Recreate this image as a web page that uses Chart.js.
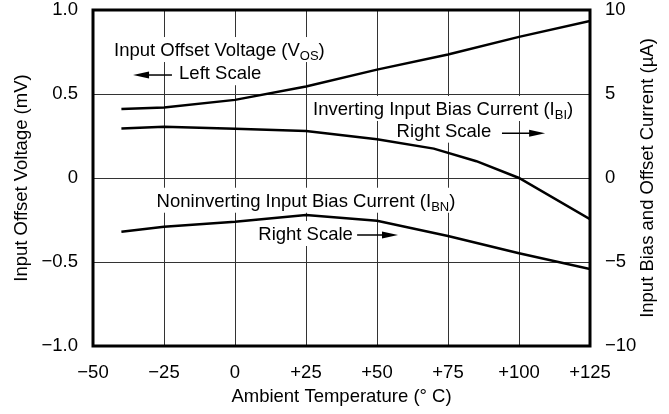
<!DOCTYPE html>
<html>
<head>
<meta charset="utf-8">
<script src="https://cdn.jsdelivr.net/npm/chart.js@4/dist/chart.umd.min.js"></script>
<style>
    html, body { margin: 0; padding: 0; background: #fff; }
    #chart { display: block; }
</style>
</head>
<body>
<canvas id="chart" width="669" height="414"></canvas>
<script>
// values
const vosTemps = [-40, -25, 0, 25, 50, 75, 100, 125];
const vosValues = [0.41, 0.42, 0.465, 0.545, 0.645, 0.735, 0.84, 0.935]; // mV, left scale

const ibiTemps = [-40, -25, 0, 25, 50, 70, 85, 100, 125];
const ibiValues = [2.95, 3.05, 2.93, 2.8, 2.3, 1.75, 1.0, 0, -2.45]; // uA, right scale

const ibnTemps = [-40, -25, 0, 25, 50, 75, 100, 125];
const ibnValues = [-3.2, -2.9, -2.6, -2.2, -2.55, -3.45, -4.48, -5.42]; // uA, right scale

const xTicks = [-50, -25, 0, 25, 50, 75, 100, 125];
const xTickLabels = ["\u221250", "\u221225", "0", "+25", "+50", "+75", "+100", "+125"];
const leftTicks = [-1, -0.5, 0, 0.5, 1];
const leftTickLabels = ["\u22121.0", "\u22120.5", "0", "0.5", "1.0"];
const rightTicks = [-10, -5, 0, 5, 10];
const rightTickLabels = ["\u221210", "\u22125", "0", "5", "10"];

const FONT = "'Liberation Sans', Arial, Helvetica, sans-serif";
const FONT_SIZE = 18.5;
const SUB_SIZE = 13;
Chart.defaults.font.family = FONT;
Chart.defaults.font.size = FONT_SIZE;
Chart.defaults.color = "#000";

function toPoints(xs, ys) {
    return xs.map((x, i) => ({ x: x, y: ys[i] }));
}

function labelFor(ticks, labels) {
    return (value) => {
        const i = ticks.indexOf(value);
        return i >= 0 ? labels[i] : "";
    };
}

// text notes on the plot, placed in data units (temperature, left scale mV)
const notes = [
    { t: -42.6, v: 0.726, parts: [["Input Offset Voltage (V", 0], ["OS", 1], [")", 0]] },
    { t: -19.7, v: 0.588, parts: [["Left Scale", 0]] },
    { t: 27.5, v: 0.375, parts: [["Inverting Input Bias Current (I", 0], ["BI", 1], [")", 0]] },
    { t: 56.9, v: 0.246, parts: [["Right Scale", 0]] },
    { t: -27.6, v: -0.171, parts: [["Noninverting Input Bias Current (I", 0], ["BN", 1], [")", 0]] },
    { t: 8.2, v: -0.369, parts: [["Right Scale", 0]] },
];
const arrows = [
    { from: -22.2, to: -35.9, v: 0.613 },
    { from: 94.0, to: 109.2, v: 0.266 },
    { from: 43.0, to: 57.4, v: -0.339 },
];

function setFont(ctx, sub) {
    ctx.font = (sub ? SUB_SIZE : FONT_SIZE) + "px " + FONT;
}

function richWidth(ctx, parts) {
    let w = 0;
    parts.forEach(([s, sub]) => {
        setFont(ctx, sub);
        w += ctx.measureText(s).width;
    });
    return w;
}

const notesPlugin = {
    id: "notes",
    beforeDatasetsDraw(chart) {
        const { ctx, scales } = chart;
        ctx.save();
        ctx.fillStyle = "#fff";
        notes.forEach((n) => {
            const x = scales.x.getPixelForValue(n.t);
            const y = scales.y.getPixelForValue(n.v);
            const w = richWidth(ctx, n.parts);
            ctx.fillRect(x - 3, y - 19, w + 6, 25);
        });
        ctx.restore();
    },
    afterDatasetsDraw(chart) {
        const { ctx, scales, chartArea } = chart;
        ctx.save();
        ctx.fillStyle = "#000";
        ctx.strokeStyle = "#000";
        ctx.textBaseline = "alphabetic";
        ctx.textAlign = "left";
        notes.forEach((n) => {
            let x = scales.x.getPixelForValue(n.t);
            const y = scales.y.getPixelForValue(n.v);
            n.parts.forEach(([s, sub]) => {
                setFont(ctx, sub);
                ctx.fillText(s, x, sub ? y + 4 : y);
                x += ctx.measureText(s).width;
            });
        });

        arrows.forEach((a) => {
            const x1 = scales.x.getPixelForValue(a.from);
            const x2 = scales.x.getPixelForValue(a.to);
            const y = scales.y.getPixelForValue(a.v);
            const dir = Math.sign(x2 - x1);
            ctx.lineWidth = 1.5;
            ctx.beginPath();
            ctx.moveTo(x1, y);
            ctx.lineTo(x2 - dir * 8, y);
            ctx.stroke();
            ctx.beginPath();
            ctx.moveTo(x2, y);
            ctx.lineTo(x2 - dir * 16, y - 3.5);
            ctx.lineTo(x2 - dir * 16, y + 3.5);
            ctx.closePath();
            ctx.fill();
        });

        // heavy frame round the plot
        ctx.lineWidth = 3;
        ctx.strokeRect(chartArea.left, chartArea.top,
            chartArea.right - chartArea.left, chartArea.bottom - chartArea.top);

        // axis titles
        setFont(ctx, 0);
        ctx.textAlign = "center";
        ctx.textBaseline = "middle";
        const midY = (chartArea.top + chartArea.bottom) / 2;
        ctx.save();
        ctx.translate(22, midY);
        ctx.rotate(-Math.PI / 2);
        ctx.fillText("Input Offset Voltage (mV)", 0, 0);
        ctx.restore();
        ctx.save();
        ctx.translate(648, midY);
        ctx.rotate(-Math.PI / 2);
        ctx.fillText("Input Bias and Offset Current (\u00b5A)", 0, 0);
        ctx.restore();
        ctx.fillText("Ambient Temperature (\u00b0 C)", (chartArea.left + chartArea.right) / 2, 397);
        ctx.restore();
    },
};

const lineStyle = {
    borderColor: "#000",
    borderWidth: 2.5,
    pointRadius: 0,
    fill: false,
    tension: 0,
};

// pin the axis boxes so the plot area sits where the reference has it
function fixWidth(w) {
    return (s) => { s.width = w; s.paddingTop = 0; s.paddingBottom = 0; };
}

new Chart(document.getElementById("chart"), {
    type: "line",
    data: {
        datasets: [
            { ...lineStyle, label: "VOS", data: toPoints(vosTemps, vosValues), yAxisID: "y" },
            { ...lineStyle, label: "IBI", data: toPoints(ibiTemps, ibiValues), yAxisID: "y2" },
            { ...lineStyle, label: "IBN", data: toPoints(ibnTemps, ibnValues), yAxisID: "y2" },
        ],
    },
    options: {
        responsive: false,
        animation: false,
        events: [],
        layout: { padding: { top: 10 } },
        plugins: {
            legend: { display: false },
            tooltip: { enabled: false },
        },
        scales: {
            x: {
                type: "linear",
                min: -50,
                max: 125,
                afterBuildTicks: (s) => { s.ticks = xTicks.map((v) => ({ value: v })); },
                afterFit: (s) => { s.height = 68; s.paddingLeft = 0; s.paddingRight = 0; },
                ticks: { callback: labelFor(xTicks, xTickLabels), padding: 16, maxRotation: 0 },
                grid: { color: "#333", lineWidth: 1, drawTicks: false },
                border: { display: false },
            },
            y: {
                position: "left",
                min: -1,
                max: 1,
                afterBuildTicks: (s) => { s.ticks = leftTicks.map((v) => ({ value: v })); },
                afterFit: fixWidth(93),
                ticks: { callback: labelFor(leftTicks, leftTickLabels), padding: 15 },
                grid: { color: "#333", lineWidth: 1, drawTicks: false },
                border: { display: false },
            },
            y2: {
                position: "right",
                min: -10,
                max: 10,
                afterBuildTicks: (s) => { s.ticks = rightTicks.map((v) => ({ value: v })); },
                afterFit: fixWidth(79),
                ticks: { callback: labelFor(rightTicks, rightTickLabels), padding: 15 },
                grid: { display: false, drawTicks: false },
                border: { display: false },
            },
        },
    },
    plugins: [notesPlugin],
});
</script>
</body>
</html>
